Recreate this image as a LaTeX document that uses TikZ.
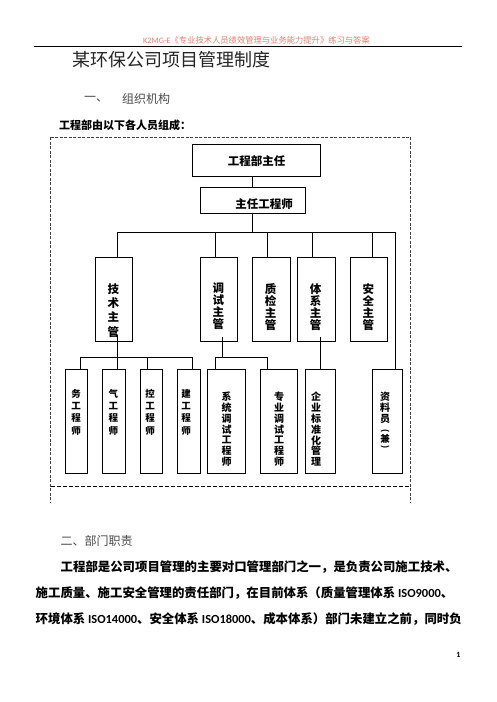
\documentclass[tikz,border=0pt]{standalone}
\usepackage{fontspec}
\setmainfont{Carlito}
\newfontfamily\cjk{Noto Sans CJK SC}
\newfontfamily\lat{Carlito}
\definecolor{hdrcol}{RGB}{232,128,108}
\begin{document}
\begin{tikzpicture}[x=1pt,y=-1pt,
  box/.style={draw,line width=0.9pt,inner sep=0pt},
  conn/.style={line width=0.9pt},
  mgr/.style={inner sep=0pt,align=center,font=\cjk\bfseries\fontsize{11.5}{12}\selectfont},
  mgrwide/.style={inner sep=0pt,align=center,font=\cjk\bfseries\fontsize{11.5}{14.1}\selectfont},
  engfour/.style={inner sep=0pt,align=center,font=\cjk\bfseries\fontsize{9.5}{12.4}\selectfont},
  engseven/.style={inner sep=0pt,align=center,font=\cjk\bfseries\fontsize{10}{10.8}\selectfont},
  frame/.style={line width=0.7pt,black!75,dash pattern=on 3pt off 1.5pt},
  para/.style={anchor=west,inner sep=0pt,font=\cjk\bfseries\fontsize{12.4}{12.4}\selectfont}
]
\fill[white] (0,0) rectangle (496,702);
\useasboundingbox (0,0) rectangle (496,702);

% header
\node[inner sep=0pt,text=hdrcol,font=\cjk\fontsize{8.3}{8.3}\selectfont] (hdr) at (256.5,40) {{\lat K2MG-E}《专业技术人员绩效管理与业务能力提升》练习与答案};
\draw[line width=0.8pt] (34.3,46) -- (461.7,46);

% titles
\node[anchor=west,inner sep=0pt,text=black!85,font=\cjk\fontsize{18}{18}\selectfont] (title) at (72,60) {某环保公司项目管理制度};
\node[anchor=west,inner sep=0pt,text=black!70,font=\cjk\fontsize{12}{12}\selectfont] (s1n) at (84,99) {一、};
\node[anchor=west,inner sep=0pt,text=black!70,font=\cjk\fontsize{12}{12}\selectfont] (s1t) at (122,99) {组织机构};
\node[anchor=west,inner sep=0pt,font=\cjk\bfseries\fontsize{11}{11}\selectfont] (intro) at (59,125.7) {工程部由以下各人员组成：};

% dashed frame
\draw[frame] (50.7,137.3) -- (410,137.3);
\draw[frame] (50.7,137.3) -- (50.7,502);
\draw[frame] (410,137.3) -- (410,502);
\draw[line width=0.9pt,dash pattern=on 4pt off 2pt] (50.7,486.7) -- (410,486.7);

% top boxes
\node[box,minimum width=127.7pt,minimum height=31.7pt] (chief) at (256.2,160.2) {};
\node[mgr] (chiefT) at (256.5,161) {工程部主任};
\node[box,minimum width=105.4pt,minimum height=26pt] (ce) at (253,200.3) {};
\node[mgr] (ceT) at (264,204) {主任工程师};

% second row
\node[box,minimum width=37pt,minimum height=83.7pt] (tech) at (113.8,299.2) {};
\node[box,minimum width=37.4pt,minimum height=83.7pt] (debug) at (219,299.2) {};
\node[box,minimum width=38pt,minimum height=83.7pt] (qc) at (271.3,299.2) {};
\node[box,minimum width=38pt,minimum height=83.7pt] (sys) at (316.3,299.2) {};
\node[box,minimum width=37.4pt,minimum height=83.7pt] (safe) at (369,299.2) {};
\node[mgrwide] (techT) at (113.3,310.5) {技\\术\\主\\管};
\node[mgr] (debugT) at (218.3,306.3) {调\\试\\主\\管};
\node[mgr] (qcT) at (270.7,307.2) {质\\检\\主\\管};
\node[mgr] (sysT) at (315.7,307) {体\\系\\主\\管};
\node[mgr] (safeT) at (368.3,307) {安\\全\\主\\管};

% third row
\node[box,minimum width=22.4pt,minimum height=104pt] (e1) at (76.5,421.3) {};
\node[box,minimum width=23.4pt,minimum height=104pt] (e2) at (114,421.3) {};
\node[box,minimum width=22.4pt,minimum height=104pt] (e3) at (151.5,421.3) {};
\node[box,minimum width=23pt,minimum height=104pt] (e4) at (188.8,421.3) {};
\node[box,minimum width=38pt,minimum height=104pt] (e5) at (226.3,421.3) {};
\node[box,minimum width=37pt,minimum height=104pt] (e6) at (278.8,421.3) {};
\node[box,minimum width=30pt,minimum height=104pt] (e7) at (320.3,421.3) {};
\node[box,minimum width=30pt,minimum height=104pt] (e8) at (387.3,421.3) {};
\node[engfour] (e1T) at (76,412) {务\\工\\程\\师};
\node[engfour] (e2T) at (113.3,412) {气\\工\\程\\师};
\node[engfour] (e3T) at (150,412) {控\\工\\程\\师};
\node[engfour] (e4T) at (186,412) {建\\工\\程\\师};
\node[engseven] (e5T) at (226.7,429.2) {系\\统\\调\\试\\工\\程\\师};
\node[engseven] (e6T) at (279,429.2) {专\\业\\调\\试\\工\\程\\师};
\node[engseven] (e7T) at (316,429.2) {企\\业\\标\\准\\化\\管\\理};
\node[engseven] (e8T) at (385,407.7) {资\\料\\员};
\node[inner sep=0pt,rotate=-90,font=\lat\bfseries\fontsize{10}{10}\selectfont] (e8P1) at (385,431.2) {(};
\node[inner sep=0pt,font=\cjk\bfseries\fontsize{9.5}{9.5}\selectfont] (e8J) at (385,439) {兼};
\node[inner sep=0pt,rotate=-90,font=\lat\bfseries\fontsize{10}{10}\selectfont] (e8P2) at (385,447.2) {)};

% connectors: top
\coordinate (xc) at (252.3,0);
\draw[conn] (chief.south -| xc) -- (ce.north -| xc);
\coordinate (b1L) at (117.7,232.3);
\coordinate (b1R) at (395.7,232.3);
\draw[conn] (ce.south -| xc) -- (b1L -| xc);
\draw[conn] (b1L) -- (b1R);
\coordinate (b1a) at (117.7,232.3);
\coordinate (b1b) at (215.7,232.3);
\coordinate (b1c) at (267.7,232.3);
\coordinate (b1d) at (312.3,232.3);
\coordinate (b1e) at (372.3,232.3);
\draw[conn] (b1a) -- (b1a |- tech.north);
\draw[conn] (b1b) -- (b1b |- debug.north);
\draw[conn] (b1c) -- (b1c |- qc.north);
\draw[conn] (b1d) -- (b1d |- sys.north);
\draw[conn] (b1e) -- (b1e |- safe.north);
\draw[conn] (b1R) -- (b1R |- e8.north);

% tech group
\coordinate (techOut) at (117.7,335);
\coordinate (b2L) at (80.3,357.3);
\coordinate (b2R) at (192.3,357.3);
\draw[conn] (techOut) -- (techOut |- b2L);
\draw[conn] (b2L) -- (b2R);
\coordinate (b2b) at (117.7,357.3);
\coordinate (b2c) at (147.3,357.3);
\draw[conn] (b2L) -- (b2L |- e1.north);
\draw[conn] (b2b) -- (b2b |- e2.north);
\draw[conn] (b2c) -- (b2c |- e3.north);
\draw[conn] (b2R) -- (b2R |- e4.north);

% debug group
\coordinate (debugOut) at (222.3,336.7);
\coordinate (b3L) at (215.7,357.3);
\coordinate (b3R) at (267.7,357.3);
\draw[conn] (debugOut) -- (debugOut |- b3L);
\draw[conn] (b3L) -- (b3R);
\draw[conn] (b3L) -- (b3L |- e5.north);
\draw[conn] (b3R) -- (b3R |- e6.north);

% system group
\coordinate (sysOut) at (320.3,336.7);
\draw[conn] (sysOut) -- (sysOut |- e7.north);

% section two
\node[anchor=west,inner sep=0pt,text=black!70,font=\cjk\fontsize{12}{12}\selectfont] (s2) at (60.5,540.7) {二、部门职责};
\node[para] (p1) at (60.5,566.7) {工程部是公司项目管理的主要对口管理部门之一，是负责公司施工技术、};
\node[para] (p2) at (35.5,592.7) {施工质量、施工安全管理的责任部门，在目前体系（质量管理体系\ {\lat ISO9000}、};
\node[para] (p3) at (35.5,619) {环境体系 {\lat ISO14000}、安全体系 {\lat ISO18000}、成本体系）部门未建立之前，同时负};
\node[inner sep=0pt,font=\lat\bfseries\fontsize{8}{8}\selectfont] (pg) at (458.3,655) {1};
\end{tikzpicture}
\end{document}
